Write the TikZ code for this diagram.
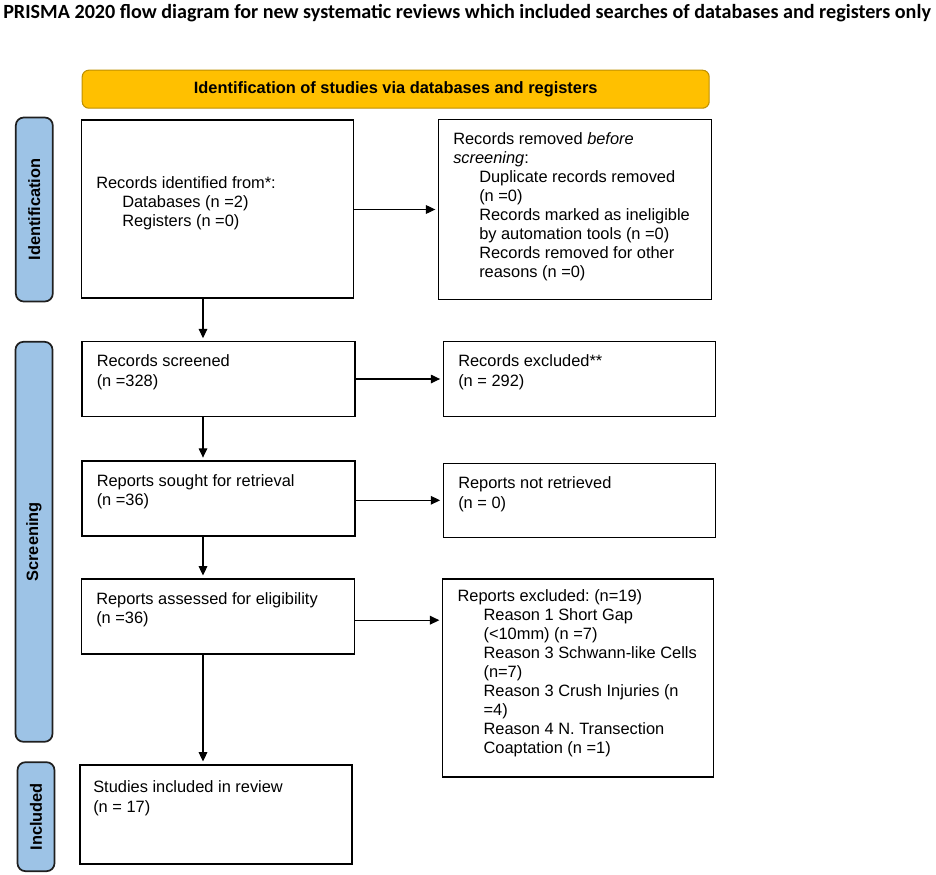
\documentclass[tikz,border=0pt]{standalone}
\usepackage{fontspec}
\setmainfont{Liberation Sans}
\newfontfamily\titlefont{Carlito}
\usetikzlibrary{arrows.meta}
\newlength\pxu
\setlength\pxu{0.75pt}
\definecolor{barfill}{HTML}{FFC000}
\definecolor{barline}{HTML}{BF9000}
\definecolor{sidefill}{HTML}{9DC3E6}
\definecolor{sideline}{HTML}{1F1F1F}
\newcommand\tabin{\hspace*{19.5pt}}
\newcommand\lns[1]{\begin{tabular}[t]{@{}l@{}}#1\end{tabular}}
\frenchspacing
\begin{document}
\begin{tikzpicture}[x=0.75pt,y=-0.75pt,
  every node/.style={font=\fontsize{12.3}{14.25}\selectfont},
  box/.style={draw=black,line width=1.2pt,fill=white,inner sep=0pt},
  sidelab/.style={draw=sideline,line width=1.3pt,fill=sidefill,rounded corners=6pt,inner sep=0pt,font=\bfseries\fontsize{12.3}{14.25}\selectfont,rotate=90},
  txt/.style={anchor=base west,inner sep=0pt},
  arr/.style={line width=0.8pt,-{Triangle[length=7pt,width=6.5pt]},shorten >=1.8pt}
]
\useasboundingbox (0,0) rectangle (936,875);
% title
\node[anchor=base west,inner sep=0pt,font=\titlefont\bfseries\fontsize{15.1}{17}\selectfont] (title) at (3,18)
  {PRISMA 2020 flow diagram for new systematic reviews which included searches of databases and registers only};
% header bar
\node[draw=barline,line width=0.8pt,fill=barfill,rounded corners=5pt,minimum width=627\pxu,minimum height=38\pxu,inner sep=0pt,font=\bfseries\fontsize{12.3}{14.25}\selectfont] (bar) at (395.7,89.2)
  {Identification of studies via databases and registers};
% side labels
\node[sidelab,minimum width=184\pxu,minimum height=37\pxu] (idlab) at (34.3,209.5) {Identification};
\node[sidelab,minimum width=400\pxu,minimum height=37\pxu] (scrlab) at (34,541.8) {Screening};
\node[sidelab,minimum width=109\pxu,minimum height=37\pxu] (inclab) at (36,816.7) {Included};
% boxes
\node[box,minimum width=272\pxu,minimum height=178\pxu] (ident) at (217.5,209.2) {};
\node[box,minimum width=273\pxu,minimum height=180\pxu] (removed) at (575,209.5) {};
\node[box,minimum width=273\pxu,minimum height=75\pxu] (screened) at (218.3,378.9) {};
\node[box,minimum width=272\pxu,minimum height=75\pxu] (excluded) at (579.3,379) {};
\node[box,minimum width=273\pxu,minimum height=75\pxu] (sought) at (218.3,498.3) {};
\node[box,minimum width=272\pxu,minimum height=74\pxu] (notret) at (579.3,500.3) {};
\node[box,minimum width=273\pxu,minimum height=75\pxu] (assessed) at (218,616.2) {};
\node[box,minimum width=271\pxu,minimum height=198\pxu] (excl2) at (578,677.8) {};
\node[box,minimum width=272\pxu,minimum height=99\pxu] (studies) at (215.9,814.2) {};
% texts
\node[txt] (identtxt) at (96,188) {\lns{Records identified from*:\\ \tabin Databases (n =2)\\ \tabin Registers (n =0)}};
\node[txt] (removedtxt) at (453,144) {\lns{Records removed \textit{before}\\ \textit{screening}:\\ \tabin Duplicate records removed\\ \tabin (n =0)\\ \tabin Records marked as ineligible\\ \tabin by automation tools (n =0)\\ \tabin Records removed for other\\ \tabin reasons (n =0)}};
\node[txt] (screenedtxt) at (96.5,366.7) {\lns{Records screened\\[0.75pt] (n =328)}};
\node[txt] (excludedtxt) at (458,366.7) {\lns{Records excluded**\\[0.75pt] (n = 292)}};
\node[txt] (soughttxt) at (96.5,486.7) {\lns{Reports sought for retrieval\\ (n =36)}};
\node[txt] (notrettxt) at (458,488.7) {\lns{Reports not retrieved\\[0.75pt] (n = 0)}};
\node[txt] (assessedtxt) at (96,604) {\lns{Reports assessed for eligibility\\ (n =36)}};
\node[txt] (excl2txt) at (457.3,601) {\lns{Reports excluded: (n=19)\\ \tabin Reason 1 Short Gap\\ \tabin (<10mm) (n =7)\\ \tabin Reason 3 Schwann-like Cells\\ \tabin (n=7)\\ \tabin Reason 3 Crush Injuries (n\\ \tabin =4)\\ \tabin Reason 4 N. Transection\\ \tabin Coaptation (n =1)}};
\node[txt] (studiestxt) at (93,792.7) {\lns{Studies included in review\\[0.75pt] (n = 17)}};
% connectors
\coordinate (colx) at (203,0);
\draw[arr] (ident.east |- removed.west) -- (removed.west);
\draw[arr] (ident.south -| colx) -- (screened.north -| colx);
\draw[arr] (screened.east |- excluded.west) -- (excluded.west);
\draw[arr] (screened.south -| colx) -- (sought.north -| colx);
\draw[arr] (sought.east |- notret.west) -- (notret.west);
\draw[arr] (sought.south -| colx) -- (assessed.north -| colx);
\draw[arr] ([yshift=-3pt]assessed.east) -- ([yshift=-3pt]assessed.east -| excl2.west);
\draw[arr] (assessed.south -| colx) -- (studies.north -| colx);
\end{tikzpicture}
\end{document}
